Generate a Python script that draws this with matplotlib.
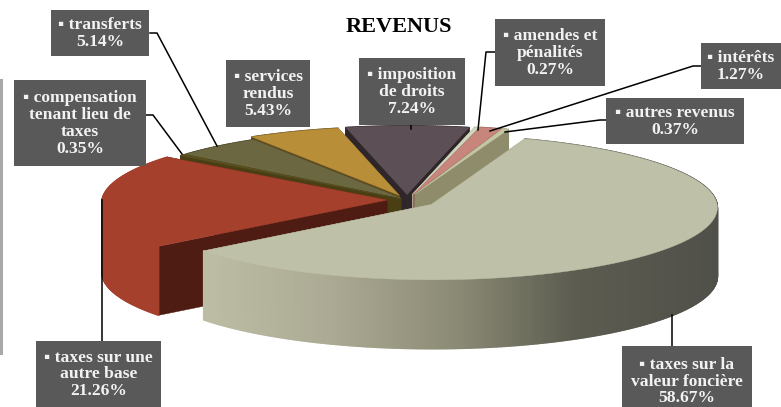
import numpy as np
import matplotlib
matplotlib.use("Agg")
import matplotlib.pyplot as plt
from matplotlib.collections import PolyCollection
from matplotlib.colors import LinearSegmentedColormap
from matplotlib.patches import Rectangle

categories = ["taxes sur la\nvaleur foncière", "taxes sur une\nautre base",
              "compensation\ntenant lieu de\ntaxes", "transferts", "services\nrendus",
              "imposition\nde droits", "amendes et\npénalités", "intérêts", "autres revenus"]
values = [58.67, 21.26, 0.35, 5.14, 5.43, 7.24, 0.27, 1.27, 0.37]

# styles, same order as values
top_colors = ["#BFC0A8", "#A5402D", "#5A5020", "#6B6741", "#B88F38", "#5C4F55", "#D2D5BE", "#C7857B", "#C4C5A3"]
cut_colors = ["#8E8C6B", "#4E1C12", "#4A3F14", "#3F3A1E", "#5E4A1C", "#2E2628", "#A9AB92", "#8E5A52", "#8E8C6B"]
arc_colors = [None, "#A5402D", "#4A3F14", "#3F3A1E", "#5E4A1C", "#2E2628", "#A9AB92", "#8E5A52", "#8E8C6B"]
explode = [0.105, 0.07, 0.03, 0.03, 0.07, 0.075, 0.08, 0.085, 0.085]

# label boxes in pixels: x0, y0, x1, y1
boxes = [(622, 346, 752, 416), (36, 341, 161, 407), (14, 80, 146, 166), (51, 10, 149, 56),
         (226, 60, 310, 127), (359, 58, 465, 125), (495, 19, 605, 86), (701, 43, 781, 89),
         (606, 98, 744, 144)]
leaders = [[(672, 346), (672, 315)],
           [(102, 341), (102, 200)],
           [(146, 115), (153, 115), (182, 154)],
           [(150, 33), (157, 33), (217, 146)],
           [],
           [(411, 125), (411, 129)],
           [(495, 52), (486, 52), (478, 130)],
           [(701, 66), (693, 66), (490, 131)],
           [(606, 120), (600, 120), (505, 132)]]

CX, CY = 407, 200
RX, RY = 285, 72
DEPTH = 69
PERSP = 0.04
START = 70

plt.rcParams["font.family"] = ["Liberation Serif", "DejaVu Sans"]
plt.rcParams["font.weight"] = "bold"

fig = plt.figure(figsize=(7.81, 4.07), dpi=100)
ax = fig.add_axes([0, 0, 1, 1])
ax.set_xlim(0, 781)
ax.set_ylim(407, 0)
ax.axis("off")


def project(x, y):
    s = 1 / (1 + PERSP * y)
    return CX + RX * x * s, CY - RY * y * s


tan_side = LinearSegmentedColormap.from_list(
    "tan_side", [(0, "#BDBDA5"), (0.25, "#ABA993"), (0.5, "#8A8974"), (0.72, "#5C5C50"), (1, "#50504A")])

shares = np.array(values) / sum(values) * 360
ends = START - np.cumsum(shares)
starts = ends + shares
slices = []
for i in range(len(values)):
    mid = np.radians((starts[i] + ends[i]) / 2)
    ox, oy = explode[i] * np.cos(mid), explode[i] * np.sin(mid)
    t = np.radians(np.linspace(starts[i], ends[i], max(int(shares[i] * 2), 4)))
    ex, ey = project(ox + np.cos(t), oy + np.sin(t))
    ax0, ay0 = project(ox, oy)
    slices.append((ax0, ay0, ex, ey))

# back to front
order = [5, 6, 7, 8, 4, 3, 2, 1, 0]
for z, i in enumerate(order):
    ax0, ay0, ex, ey = slices[i]
    zo = 2 + z * 0.1
    # cut faces
    for px, py in [(ex[0], ey[0]), (ex[-1], ey[-1])]:
        ax.fill([ax0, px, px, ax0], [ay0, py, py + DEPTH, ay0 + DEPTH],
                color=cut_colors[i], lw=0.3, zorder=zo)
    # outer rim
    quads, cols = [], []
    for k in range(len(ex) - 1):
        quads.append([(ex[k], ey[k]), (ex[k + 1], ey[k + 1]),
                      (ex[k + 1], ey[k + 1] + DEPTH), (ex[k], ey[k] + DEPTH)])
        if arc_colors[i] is None:
            cols.append(tan_side(np.clip((ex[k] - 205) / 513, 0, 1)))
        else:
            cols.append(arc_colors[i])
    ax.add_collection(PolyCollection(quads, facecolors=cols, edgecolors=cols, linewidths=1.0, zorder=zo))
    ax.fill(np.r_[ax0, ex], np.r_[ay0, ey], color=top_colors[i], lw=0.3, zorder=zo + 0.05)

for pts in leaders:
    if pts:
        ax.plot(*zip(*pts), color="black", lw=1.1, zorder=5)

for name, val, (x0, y0, x1, y1) in zip(categories, values, boxes):
    ax.add_patch(Rectangle((x0, y0), x1 - x0, y1 - y0, color="#595959", lw=0, zorder=6))
    ax.text((x0 + x1) / 2, (y0 + y1) / 2 + 0.5, "▪ " + name + "\n%.2f%%" % val,
            color="#F2F2F2", fontsize=12.6, ha="center", va="center", linespacing=1.07, zorder=7)

ax.text(399, 27, "REVENUS", color="black", fontsize=16, ha="center", va="center")
ax.plot([1, 1], [80, 353], color="#A9A9A9", lw=2.2, zorder=1)

fig.savefig("out.png", dpi=100)
